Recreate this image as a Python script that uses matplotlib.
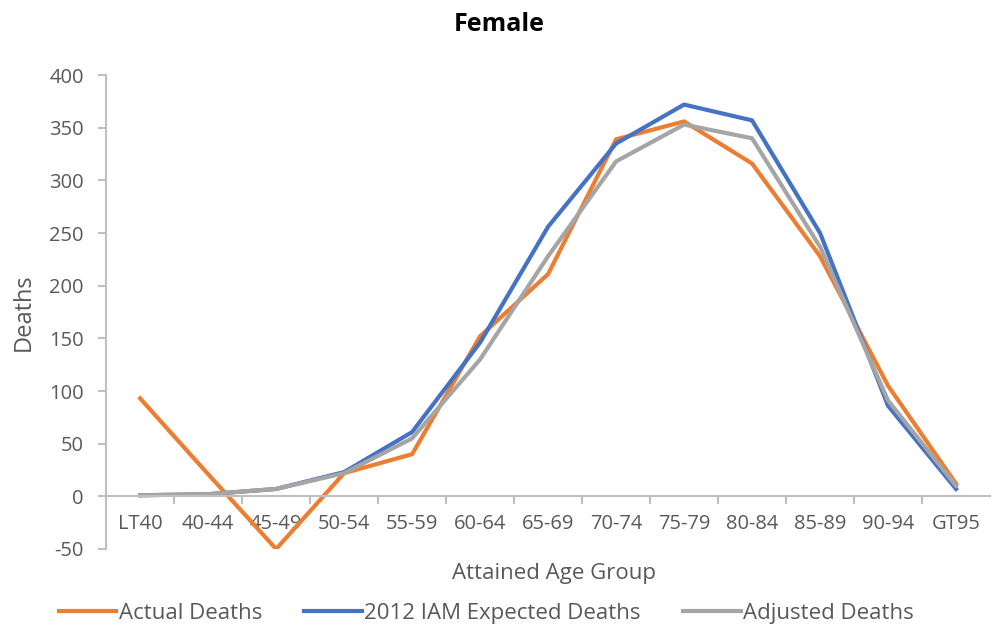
import matplotlib.pyplot as plt
from matplotlib.ticker import FixedLocator

plt.rcParams['font.family'] = ['Open Sans', 'DejaVu Sans']
plt.rcParams['axes.unicode_minus'] = False

# data
age_groups = ["LT40", "40-44", "45-49", "50-54", "55-59", "60-64", "65-69",
              "70-74", "75-79", "80-84", "85-89", "90-94", "GT95"]
actual_deaths = [93, 21, -50, 22, 40, 152, 211, 339, 356, 316, 228, 105, 12]
iam_expected = [1, 2, 7, 23, 61, 146, 256, 335, 372, 357, 250, 86, 7]
adjusted_deaths = [1, 2, 7, 22, 55, 130, 228, 318, 353, 340, 237, 91, 10]

text_col = "#595959"
axis_col = "#BFBFBF"

fig = plt.figure(figsize=(9.92, 6.31), dpi=100)
ax = fig.add_axes([0.107, 0.130, 0.891, 0.751])

x = list(range(len(age_groups)))
ax.plot(x, actual_deaths, color="#ED7D31", lw=3, label="Actual Deaths", solid_joinstyle="round")
ax.plot(x, iam_expected, color="#4472C4", lw=3, label="2012 IAM Expected Deaths", solid_joinstyle="round")
ax.plot(x, adjusted_deaths, color="#A5A5A5", lw=3, label="Adjusted Deaths", solid_joinstyle="round")

ax.set_xlim(-0.5, len(age_groups) - 0.5)
ax.set_ylim(-50, 400)
ax.set_yticks(range(-50, 401, 50))

# x axis crosses at zero, category labels below it
ax.spines['bottom'].set_position(('data', 0))
ax.spines['top'].set_visible(False)
ax.spines['right'].set_visible(False)
ax.spines['bottom'].set_color(axis_col)
ax.spines['left'].set_color(axis_col)
ax.spines['bottom'].set_linewidth(1.5)
ax.spines['left'].set_linewidth(1.5)

ax.set_xticks(x)
ax.set_xticklabels(age_groups)
ax.xaxis.set_minor_locator(FixedLocator([i + 0.5 for i in x[:-1]]))
ax.tick_params(axis='x', which='major', length=0, pad=13, labelsize=14.5, colors=text_col)
ax.tick_params(axis='x', which='minor', length=6, width=1.5, color=axis_col, direction='out')
ax.tick_params(axis='y', length=6, width=1.5, color=axis_col, labelsize=14.5, labelcolor=text_col, pad=10)

# title is centred on the whole figure, not the plot area
fig.text(0.503, 0.961, "Female", fontsize=18, fontweight='bold', color='black',
         ha='center', va='center')
ax.set_ylabel("Deaths", fontsize=17, color=text_col, labelpad=10)
ax.text(0.507, -0.051, "Attained Age Group", transform=ax.transAxes, ha='center', va='center',
        fontsize=16, color=text_col)

leg = fig.legend(loc='center', bbox_to_anchor=(0.49, 0.028), ncol=3, frameon=False,
                 fontsize=16, handlelength=2.6, handletextpad=0.1, columnspacing=1.9)
for t in leg.get_texts():
    t.set_color(text_col)

fig.savefig("out.png", dpi=100)
